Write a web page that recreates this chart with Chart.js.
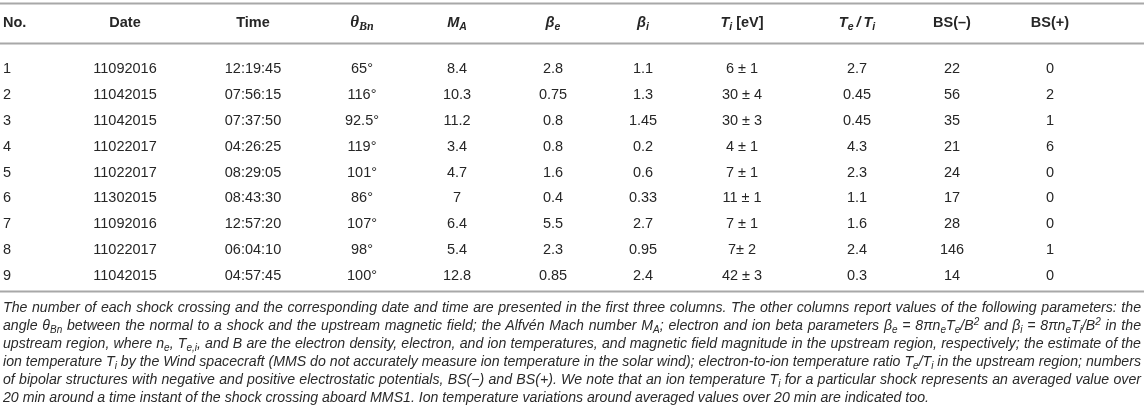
<!DOCTYPE html>
<html>
<head>
<meta charset="utf-8">
<script src="https://cdn.jsdelivr.net/npm/chart.js@4.4.1/dist/chart.umd.min.js"></script>
<style>
  html, body { margin: 0; padding: 0; background: #fff; }
  #wrap { position: relative; width: 1144px; height: 417px; overflow: hidden; }
  #tbl { position: absolute; left: 0; top: 0; }
  #caption {
    position: absolute; left: 3px; top: 298px; width: 1138px;
    font-family: "Liberation Sans", Arial, sans-serif; font-style: italic;
    font-size: 14.15px; line-height: 18px; color: #2a2a2a;
  }
  #caption div { text-align: justify; text-align-last: justify; white-space: nowrap; }
  #caption div.last { text-align-last: left; }
  #caption sub, #caption sup { font-size: 10px; line-height: 0; position: relative; vertical-align: baseline; }
  #caption sub { top: 3px; }
  #caption sup { top: -5px; }
</style>
</head>
<body>
<div id="wrap">
  <canvas id="tbl" width="1144" height="300"></canvas>
  <div id="caption">
    <div>The number of each shock crossing and the corresponding date and time are presented in the first three columns. The other columns report values of the following parameters: the</div>
    <div>angle θ<sub>Bn</sub> between the normal to a shock and the upstream magnetic field; the Alfvén Mach number M<sub>A</sub>; electron and ion beta parameters β<sub>e</sub> = 8πn<sub>e</sub>T<sub>e</sub>/B<sup>2</sup> and β<sub>i</sub> = 8πn<sub>e</sub>T<sub>i</sub>/B<sup>2</sup> in the</div>
    <div>upstream region, where n<sub>e</sub>, T<sub>e,i</sub>, and B are the electron density, electron, and ion temperatures, and magnetic field magnitude in the upstream region, respectively; the estimate of the</div>
    <div>ion temperature T<sub>i</sub> by the Wind spacecraft (MMS do not accurately measure ion temperature in the solar wind); electron-to-ion temperature ratio T<sub>e</sub>/T<sub>i</sub> in the upstream region; numbers</div>
    <div>of bipolar structures with negative and positive electrostatic potentials, BS(−) and BS(+). We note that an ion temperature T<sub>i</sub> for a particular shock represents an averaged value over</div>
    <div class="last">20 min around a time instant of the shock crossing aboard MMS1. Ion temperature variations around averaged values over 20 min are indicated too.</div>
  </div>
</div>
<script>
// table values, one array per column
const crossingNo = ['1', '2', '3', '4', '5', '6', '7', '8', '9'];
const dates = ['11092016', '11042015', '11042015', '11022017', '11022017', '11302015', '11092016', '11022017', '11042015'];
const times = ['12:19:45', '07:56:15', '07:37:50', '04:26:25', '08:29:05', '08:43:30', '12:57:20', '06:04:10', '04:57:45'];
const thetaBn = ['65°', '116°', '92.5°', '119°', '101°', '86°', '107°', '98°', '100°'];
const machA = ['8.4', '10.3', '11.2', '3.4', '4.7', '7', '6.4', '5.4', '12.8'];
const betaE = ['2.8', '0.75', '0.8', '0.8', '1.6', '0.4', '5.5', '2.3', '0.85'];
const betaI = ['1.1', '1.3', '1.45', '0.2', '0.6', '0.33', '2.7', '0.95', '2.4'];
const ionTemp = ['6 ± 1', '30 ± 4', '30 ± 3', '4 ± 1', '7 ± 1', '11 ± 1', '7 ± 1', '7± 2', '42 ± 3'];
const teOverTi = ['2.7', '0.45', '0.45', '4.3', '2.3', '1.1', '1.6', '2.4', '0.3'];
const bsNeg = ['22', '56', '35', '21', '24', '17', '28', '146', '14'];
const bsPos = ['0', '2', '1', '6', '0', '0', '0', '1', '0'];

const columns = [crossingNo, dates, times, thetaBn, machA, betaE, betaI, ionTemp, teOverTi, bsNeg, bsPos];

// header cells as rich text segments
const headers = [
    [{ t: 'No.' }],
    [{ t: 'Date' }],
    [{ t: 'Time' }],
    [{ t: 'θ', f: 'serif' }, { t: 'Bn', f: 'serif', sub: true }],
    [{ t: 'M', i: true }, { t: 'A', i: true, sub: true }],
    [{ t: 'β', i: true }, { t: 'e', i: true, sub: true }],
    [{ t: 'β', i: true }, { t: 'i', i: true, sub: true }],
    [{ t: 'T', i: true }, { t: 'i', i: true, sub: true }, { t: ' [eV]' }],
    [{ t: 'T', i: true }, { t: 'e', i: true, sub: true }, { t: '\u2009/\u2009', i: true }, { t: 'T', i: true }, { t: 'i', i: true, sub: true }],
    [{ t: 'BS(–)' }],
    [{ t: 'BS(+)' }]
];

// layout: column x positions (px in the x scale) and alignment
const colX = [3, 125, 253, 362, 457, 553, 643, 742, 857, 952, 1050];
const colAlign = ['left', 'center', 'center', 'center', 'center', 'center', 'center', 'center', 'center', 'center', 'center'];
const HEADER_ROW = -0.78;
const RULES = [-1.55, 0, 9.58];
const INK = '#262626';
const SANS = '"Liberation Sans", Arial, sans-serif';

const points = [];
columns.forEach(function (col, c) {
    col.forEach(function (v, r) {
        points.push({ x: colX[c], y: r + 1, text: v, col: c });
    });
});

function segFont(s, bold) {
    const serif = s.f === 'serif';
    const size = serif ? (s.sub ? 12 : 17) : (s.sub ? 10.5 : 14.5);
    const fam = serif ? '"Liberation Serif", serif' : SANS;
    const style = (s.i || serif) ? 'italic ' : '';
    const weight = bold ? 'bold ' : '';
    return style + weight + size + 'px ' + fam;
}

const tablePlugin = {
    id: 'tablePlugin',
    afterDraw: function (chart) {
        const ctx = chart.ctx;
        const xs = chart.scales.x;
        const ys = chart.scales.y;
        ctx.save();

        // horizontal rules
        ctx.strokeStyle = '#a8a8a8';
        ctx.lineWidth = 1.8;
        RULES.forEach(function (v) {
            const y = Math.round(ys.getPixelForValue(v)) + 0.5;
            ctx.beginPath();
            ctx.moveTo(0, y);
            ctx.lineTo(chart.width, y);
            ctx.stroke();
        });

        ctx.fillStyle = INK;
        ctx.textBaseline = 'middle';

        // header
        const hy = ys.getPixelForValue(HEADER_ROW);
        headers.forEach(function (segs, c) {
            let w = 0;
            segs.forEach(function (s) { ctx.font = segFont(s, true); w += ctx.measureText(s.t).width; });
            let x = xs.getPixelForValue(colX[c]);
            if (colAlign[c] === 'center') x -= w / 2;
            ctx.textAlign = 'left';
            segs.forEach(function (s) {
                ctx.font = segFont(s, true);
                ctx.fillText(s.t, x, hy + (s.sub ? 4 : 0));
                x += ctx.measureText(s.t).width;
            });
        });

        // body cells
        ctx.font = '14.5px ' + SANS;
        const meta = chart.getDatasetMeta(0);
        meta.data.forEach(function (el, k) {
            const p = points[k];
            ctx.textAlign = colAlign[p.col];
            ctx.fillText(p.text, el.x, el.y);
        });
        ctx.restore();
    }
};

const ctx = document.getElementById('tbl').getContext('2d');
const tableChart = new Chart(ctx, {
    type: 'scatter',
    data: {
        datasets: [{
            data: points,
            pointRadius: 0,
            pointHoverRadius: 0
        }]
    },
    options: {
        responsive: false,
        animation: false,
        layout: { padding: 0 },
        scales: {
            x: { type: 'linear', min: 0, max: 1144, display: false },
            y: { type: 'linear', min: -1.667, max: 9.927, reverse: true, display: false }
        },
        plugins: {
            legend: { display: false },
            tooltip: { enabled: false }
        }
    },
    plugins: [tablePlugin]
});
</script>
</body>
</html>
